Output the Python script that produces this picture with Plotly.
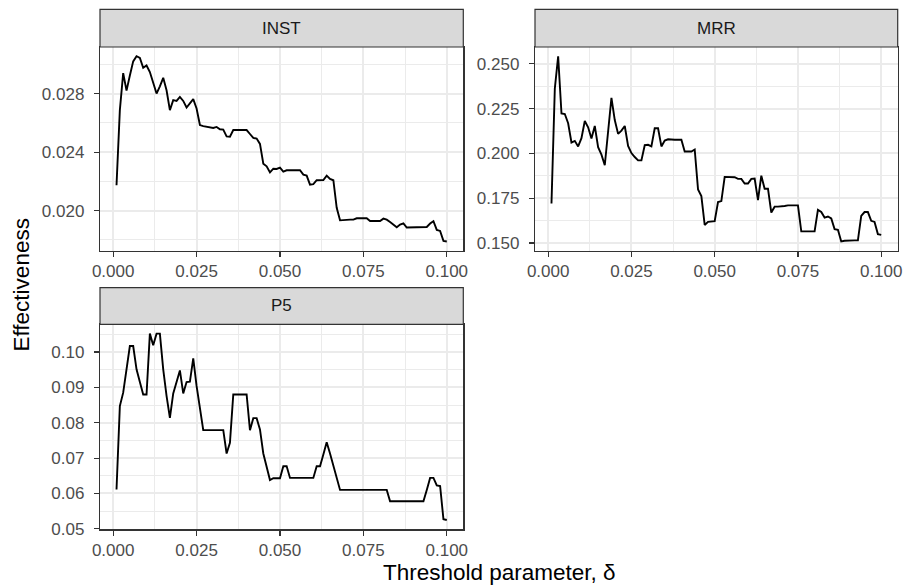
import plotly.graph_objects as go

# ---------------- data ----------------
threshold = [round(0.001 * k, 3) for k in range(1, 101)]

inst = [0.02174, 0.02687, 0.0294, 0.0282, 0.02924, 0.0302, 0.03055, 0.03044, 0.02976, 0.02992,
        0.02947, 0.02879, 0.0280, 0.0285, 0.02908, 0.02823, 0.02687, 0.02755, 0.0275, 0.02777,
        0.0275, 0.02705, 0.02732, 0.02762, 0.02698, 0.02585, 0.02578, 0.02574, 0.02565, 0.02565,
        0.02572, 0.02556, 0.02554, 0.02508, 0.02506, 0.02551, 0.02551, 0.02551, 0.02551, 0.02551,
        0.02524, 0.02497, 0.02493, 0.02456, 0.02321, 0.02303, 0.02262, 0.02287, 0.02285, 0.02294,
        0.02267, 0.02276, 0.02276, 0.02276, 0.02276, 0.02276, 0.02246, 0.0224, 0.02178, 0.02181,
        0.02208, 0.0221, 0.0221, 0.0224, 0.02217, 0.02208, 0.0202, 0.01934, 0.01937, 0.01939,
        0.01939, 0.01939, 0.01948, 0.01948, 0.01948, 0.01948, 0.0193, 0.0193, 0.0193, 0.0193,
        0.01946, 0.01939, 0.01923, 0.01903, 0.01887, 0.01905, 0.01914, 0.01885, 0.01885, 0.01885,
        0.01885, 0.01885, 0.01885, 0.01889, 0.01912, 0.01928, 0.01869, 0.01862, 0.01794, 0.0179]

mrr = [0.1721, 0.2362, 0.2542, 0.2223, 0.2220, 0.2168, 0.2061, 0.2070, 0.2039, 0.2085,
       0.2181, 0.2146, 0.2083, 0.2153, 0.2035, 0.1993, 0.1934, 0.2113, 0.2310, 0.2186,
       0.2109, 0.2127, 0.2153, 0.2042, 0.2002, 0.1980, 0.1961, 0.1961, 0.2046, 0.2048,
       0.2039, 0.2140, 0.2140, 0.2039, 0.2072, 0.2079, 0.2076, 0.2076, 0.2076, 0.2076,
       0.2011, 0.2011, 0.2011, 0.2022, 0.1799, 0.1762, 0.1601, 0.1618, 0.1618, 0.1622,
       0.1729, 0.1734, 0.1869, 0.1867, 0.1867, 0.1867, 0.1858, 0.1858, 0.1832, 0.1832,
       0.1858, 0.1860, 0.1740, 0.1876, 0.1803, 0.1803, 0.1670, 0.1703, 0.1703, 0.1703,
       0.1707, 0.1710, 0.1710, 0.1710, 0.1710, 0.1565, 0.1565, 0.1565, 0.1565, 0.1565,
       0.1685, 0.1673, 0.1642, 0.1648, 0.1637, 0.1578, 0.1574, 0.1509, 0.1513, 0.1515,
       0.1515, 0.1515, 0.1515, 0.1651, 0.1673, 0.1673, 0.1624, 0.1618, 0.1550, 0.1546]

p5 = [0.0611, 0.0847, 0.0885, 0.0951, 0.1017, 0.1017, 0.0951, 0.0915, 0.0880, 0.0880,
      0.1052, 0.1019, 0.1052, 0.1052, 0.0951, 0.0876, 0.0814, 0.0883, 0.0918, 0.0948,
      0.0883, 0.0915, 0.0916, 0.0982, 0.0904, 0.0838, 0.0779, 0.0779, 0.0779, 0.0779,
      0.0779, 0.0779, 0.0779, 0.0713, 0.0743, 0.0880, 0.0880, 0.0880, 0.0880, 0.0880,
      0.0779, 0.0813, 0.0813, 0.0781, 0.0713, 0.0677, 0.0638, 0.0643, 0.0643, 0.0643,
      0.0677, 0.0677, 0.0644, 0.0644, 0.0644, 0.0644, 0.0644, 0.0644, 0.0644, 0.0644,
      0.0677, 0.0677, 0.0710, 0.0745, 0.0713, 0.0679, 0.0644, 0.0610, 0.0610, 0.0610,
      0.0610, 0.0610, 0.0610, 0.0610, 0.0610, 0.0610, 0.0610, 0.0610, 0.0610, 0.0610,
      0.0610, 0.0610, 0.0578, 0.0578, 0.0578, 0.0578, 0.0578, 0.0578, 0.0578, 0.0578,
      0.0578, 0.0578, 0.0578, 0.0610, 0.0644, 0.0644, 0.0623, 0.0621, 0.0527, 0.0525]

panel_names = ["INST", "MRR", "P5"]
x_ticks = [0.000, 0.025, 0.050, 0.075, 0.100]
x_minor = [0.0125, 0.0375, 0.0625, 0.0875]
inst_ticks = [0.020, 0.024, 0.028]
inst_minor = [0.018, 0.022, 0.026, 0.030]
mrr_ticks = [0.150, 0.175, 0.200, 0.225, 0.250]
mrr_minor = [0.1625, 0.1875, 0.2125, 0.2375]
p5_ticks = [0.05, 0.06, 0.07, 0.08, 0.09, 0.10]
p5_minor = [0.055, 0.065, 0.075, 0.085, 0.095, 0.105]

# ---------------- layout helpers ----------------
W, H = 906, 586
FONT = "Liberation Sans, Arial, Helvetica, sans-serif"
GRID = "#EBEBEB"
DARK = "#333333"


def px_x(p):
    return p / W


def px_y(p):
    return 1 - p / H


def expand(vals, f=0.05):
    lo, hi = min(vals), max(vals)
    r = hi - lo
    return [lo - f * r, hi + f * r]


panels = [
    ("INST", inst, inst_ticks, inst_minor, ".3f", (100, 463.3), (47, 250.7), 9.3),
    ("MRR", mrr, mrr_ticks, mrr_minor, ".3f", (535, 897.7), (47, 250.7), 9.3),
    ("P5", p5, p5_ticks, p5_minor, ".2f", (100, 463.3), (324.3, 529.3), 287.6),
]

fig = go.Figure()
layout = dict(
    width=W, height=H,
    margin=dict(l=0, r=0, t=0, b=0, pad=0, autoexpand=False),
    paper_bgcolor="white", plot_bgcolor="white",
    showlegend=False,
    font=dict(family=FONT, color="#4D4D4D", size=17),
)
shapes = []
annotations = []
xr = expand(threshold)

for i, (name, vals, yt, ym, fmt, (xl, xrr), (yt_px, yb_px), strip_top) in enumerate(panels, start=1):
    sfx = "" if i == 1 else str(i)
    fig.add_trace(go.Scatter(
        x=threshold, y=vals, mode="lines",
        line=dict(color="black", width=1.9),
        xaxis="x" + sfx, yaxis="y" + sfx, hoverinfo="skip",
    ))
    common = dict(
        showline=True, mirror=True, linecolor=DARK, linewidth=1.2,
        ticks="outside", ticklen=5, tickwidth=1.2, tickcolor=DARK,
        showgrid=True, gridcolor=GRID, gridwidth=2, zeroline=False,
        automargin=False, ticklabeloverflow="allow",
        tickfont=dict(family=FONT, size=17, color="#4D4D4D"),
    )
    layout["xaxis" + sfx] = dict(
        common, domain=[px_x(xl), px_x(xrr)], anchor="y" + sfx,
        range=xr, tickmode="array", tickvals=x_ticks, tickformat=".3f",
        minor=dict(tickvals=x_minor, showgrid=True, gridcolor=GRID, gridwidth=1, ticks=""),
    )
    layout["yaxis" + sfx] = dict(
        common, domain=[px_y(yb_px), px_y(yt_px)], anchor="x" + sfx,
        range=expand(vals), tickmode="array", tickvals=yt, tickformat=fmt,
        ticklabelstandoff=6,
        minor=dict(tickvals=ym, showgrid=True, gridcolor=GRID, gridwidth=1, ticks=""),
    )
    shapes.append(dict(
        type="rect", xref="paper", yref="paper",
        x0=px_x(xl), x1=px_x(xrr), y0=px_y(yt_px), y1=px_y(strip_top),
        fillcolor="#D9D9D9", line=dict(color=DARK, width=1.2), layer="above",
    ))
    annotations.append(dict(
        text=name, xref="paper", yref="paper",
        x=px_x((xl + xrr) / 2), y=px_y((strip_top + yt_px) / 2),
        showarrow=False, xanchor="center", yanchor="middle",
        font=dict(family=FONT, size=17, color="#1A1A1A"),
    ))

annotations.append(dict(
    text="Threshold parameter, δ", xref="paper", yref="paper",
    x=px_x(499), y=px_y(572.5), showarrow=False, xanchor="center", yanchor="middle",
    font=dict(family=FONT, size=22.5, color="black"),
))
annotations.append(dict(
    text="Effectiveness", xref="paper", yref="paper",
    x=px_x(20.5), y=px_y(285), showarrow=False, xanchor="center", yanchor="middle",
    textangle=-90, font=dict(family=FONT, size=22.5, color="black"),
))

layout["shapes"] = shapes
layout["annotations"] = annotations
fig.update_layout(**layout)
fig.write_html(
    "out.html",
    config={"displayModeBar": False, "staticPlot": True},
    post_script="document.body.style.margin='0';document.body.style.overflow='hidden';",
)
